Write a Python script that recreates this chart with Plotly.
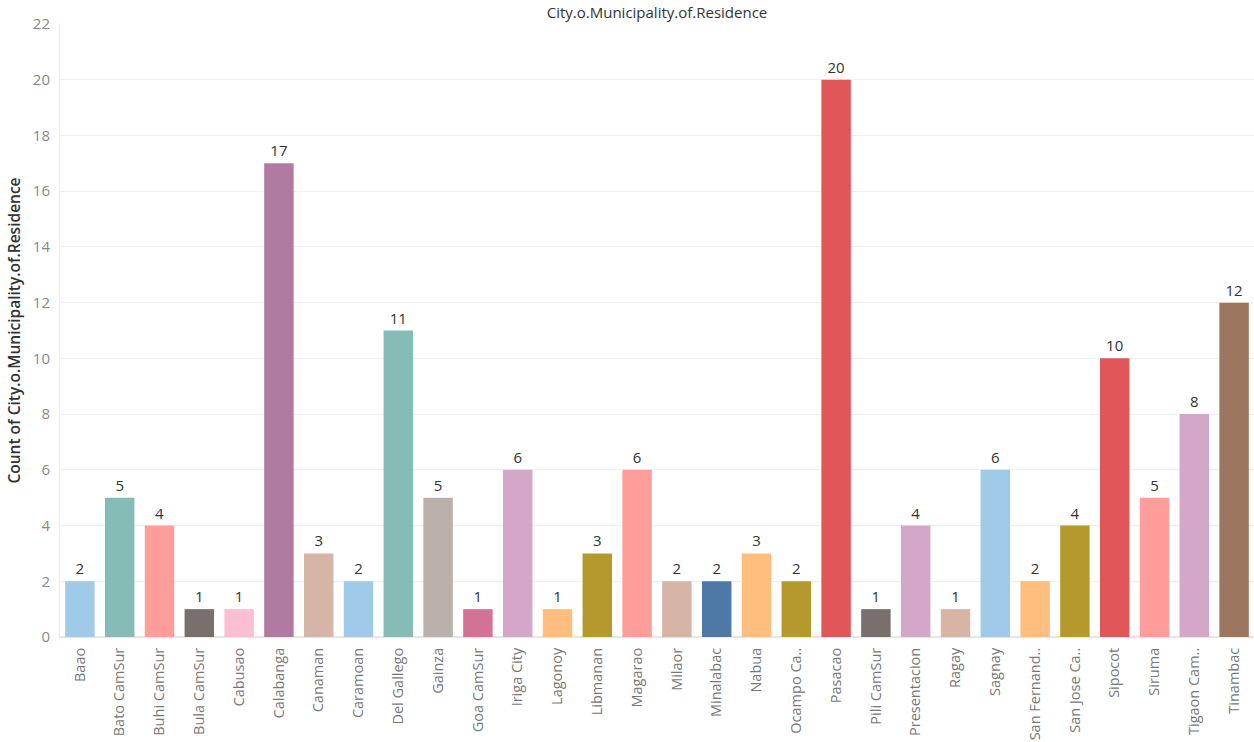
import plotly.graph_objects as go

# city / municipality of residence and counts
cities = ['Baao', 'Bato CamSur', 'Buhi CamSur', 'Bula CamSur', 'Cabusao', 'Calabanga',
          'Canaman', 'Caramoan', 'Del Gallego', 'Gainza', 'Goa CamSur', 'Iriga City',
          'Lagonoy', 'Libmanan', 'Magarao', 'Milaor', 'Minalabac', 'Nabua',
          'Ocampo Ca..', 'Pasacao', 'Pili CamSur', 'Presentacion', 'Ragay', 'Sagnay',
          'San Fernand..', 'San Jose Ca..', 'Sipocot', 'Siruma', 'Tigaon Cam..', 'Tinambac']
counts = [2, 5, 4, 1, 1, 17, 3, 2, 11, 5, 1, 6, 1, 3, 6, 2, 2, 3, 2, 20,
          1, 4, 1, 6, 2, 4, 10, 5, 8, 12]
colors = ['#A0CBE8', '#86BCB6', '#FF9D9A', '#79706E', '#FABFD2', '#B07AA1',
          '#D7B5A6', '#A0CBE8', '#86BCB6', '#BAB0AC', '#D37295', '#D4A6C8',
          '#FFBE7D', '#B6992D', '#FF9D9A', '#D7B5A6', '#4E79A7', '#FFBE7D',
          '#B6992D', '#E15759', '#79706E', '#D4A6C8', '#D7B5A6', '#A0CBE8',
          '#FFBE7D', '#B6992D', '#E15759', '#FF9D9A', '#D4A6C8', '#9D7660']

fig = go.Figure()

fig.add_trace(go.Bar(
    x=cities,
    y=counts,
    marker=dict(color=colors, line=dict(width=0)),
    text=counts,
    textposition='outside',
    textfont=dict(color='#333333', size=15),
    cliponaxis=False,
))

fig.update_layout(
    title=dict(text='City.o.Municipality.of.Residence', x=0.5, xanchor='center',
               xref='paper', y=0.99, yanchor='top', automargin=False,
               font=dict(size=15, color='#333333')),
    font=dict(family='Open Sans, sans-serif'),
    width=1254, height=742,
    margin=dict(l=60, r=0, t=24, b=105),
    plot_bgcolor='white', paper_bgcolor='white',
    bargap=0.26,
    showlegend=False,
)

fig.update_xaxes(
    automargin=False,
    tickangle=-90,
    tickfont=dict(size=14.5, color='#777777'),
    showline=True, linecolor='#e6e6e6',
    ticks='outside', ticklen=4, tickcolor='#ffffff',
)
fig.update_yaxes(
    automargin=False,
    range=[0, 22],
    dtick=2,
    tickfont=dict(size=15, color='#888888'),
    gridcolor='#f0f0f0',
    zeroline=True, zerolinecolor='#e6e6e6',
    showline=True, linecolor='#ececec',
    ticks='outside', ticklen=6, tickcolor='#ffffff',
    title=dict(text='Count of City.o.Municipality.of.Residence',
               font=dict(size=15.5, color='#333333', weight=600), standoff=8),
)

# the page body has a default 8px margin; remove it so the figure sits at 0,0
fig.write_html('out.html', config={'displayModeBar': False},
               post_script="document.body.style.margin='0';")
